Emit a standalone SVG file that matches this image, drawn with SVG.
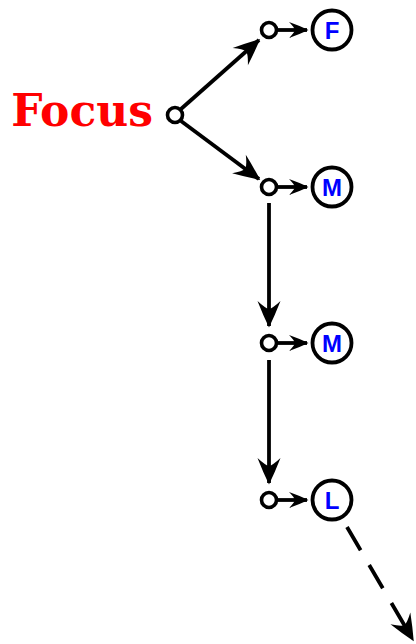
<svg xmlns="http://www.w3.org/2000/svg" width="416" height="644" viewBox="0 0 416 644">
<style>
.sc{fill:#fff;stroke:#000;stroke-width:3.6}
.bc{fill:#fff;stroke:#000;stroke-width:3.8}
.lb{font-family:"Liberation Sans",Arial,sans-serif;font-weight:bold;font-size:24px;fill:#0000ff;text-anchor:middle}
.e{fill:none;stroke:#000;stroke-width:3.8}
</style>
<defs>
<marker id="ah" markerUnits="userSpaceOnUse" markerWidth="32" markerHeight="28" viewBox="-28 -14 30 28" refX="0" refY="0" orient="auto">
<path d="M1.5,0 Q-11,-6 -25,-11.5 Q-18,-4 -17,0 Q-18,4 -25,11.5 Q-11,6 1.5,0 Z" fill="#000"/>
</marker>
<marker id="as" markerUnits="userSpaceOnUse" markerWidth="24" markerHeight="20" viewBox="-20 -10 22 20" refX="0" refY="0" orient="auto">
<path d="M1.5,0 Q-8,-4.5 -18,-8 Q-13,-3 -12,0 Q-13,3 -18,8 Q-8,4.5 1.5,0 Z" fill="#000"/>
</marker>
</defs>
<g id="edges">
<line class="e" x1="181" y1="109" x2="259" y2="40" marker-end="url(#ah)"/>
<line class="e" x1="181" y1="121" x2="259" y2="179" marker-end="url(#ah)"/>
<line class="e" x1="269" y1="203" x2="269" y2="326" marker-end="url(#ah)"/>
<line class="e" x1="269" y1="360" x2="269" y2="483" marker-end="url(#ah)"/>
<line class="e" x1="277" y1="30" x2="307" y2="30" marker-end="url(#as)"/>
<line class="e" x1="277" y1="187" x2="307" y2="187" marker-end="url(#as)"/>
<line class="e" x1="277" y1="343" x2="307" y2="343" marker-end="url(#as)"/>
<line class="e" x1="277" y1="500" x2="307" y2="500" marker-end="url(#as)"/>
<line class="e" x1="347" y1="527" x2="413" y2="640" stroke-dasharray="27 17" marker-end="url(#ah)"/>
</g>
<g id="focus">
<text x="153" y="126" font-family="DejaVu Serif, serif" font-weight="bold" font-size="44" fill="#ff0000" text-anchor="end">Focus</text>
<circle class="sc" cx="175" cy="115" r="7.5"/>
</g>
<g id="p1"><circle class="sc" cx="269" cy="30" r="7.5"/></g>
<g id="p2"><circle class="sc" cx="269" cy="187" r="7.5"/></g>
<g id="p3"><circle class="sc" cx="269" cy="343" r="7.5"/></g>
<g id="p4"><circle class="sc" cx="269" cy="500" r="7.5"/></g>
<g id="nF"><circle class="bc" cx="332" cy="30" r="19.5"/><text class="lb" x="332" y="38.5">F</text></g>
<g id="nM1"><circle class="bc" cx="332" cy="187" r="19.5"/><text class="lb" x="332" y="195.5">M</text></g>
<g id="nM2"><circle class="bc" cx="332" cy="343" r="19.5"/><text class="lb" x="332" y="351.5">M</text></g>
<g id="nL"><circle class="bc" cx="332" cy="500" r="19.5"/><text class="lb" x="332" y="508.5">L</text></g>
</svg>
